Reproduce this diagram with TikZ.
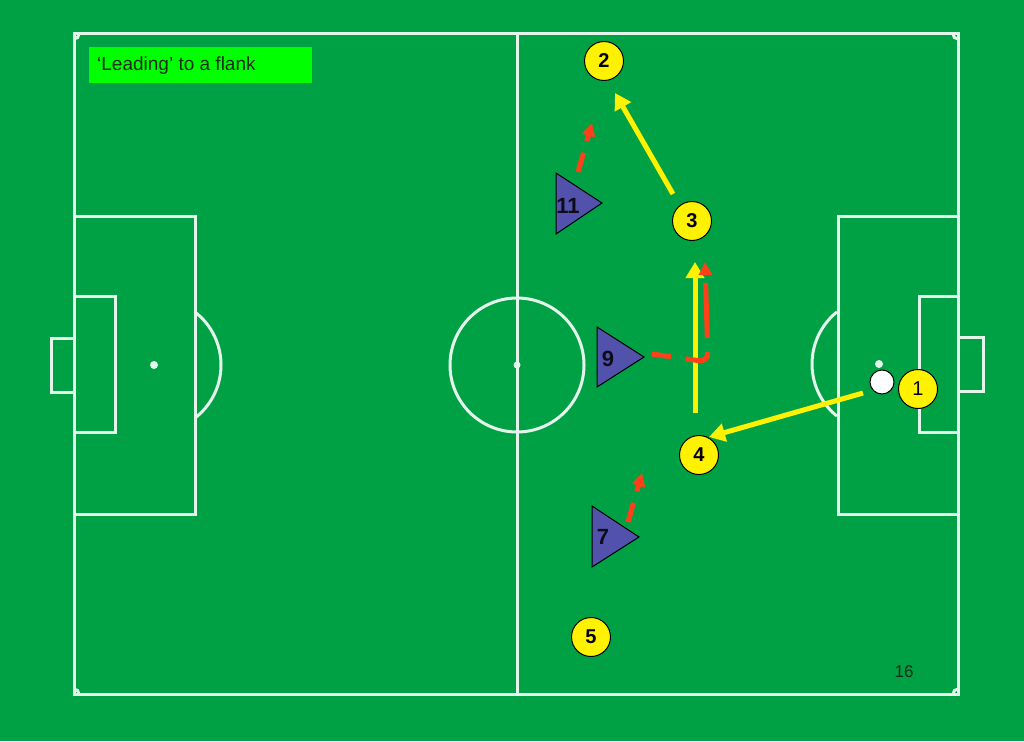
\documentclass[tikz,border=0pt]{standalone}
\usepackage{fontspec}
\setmainfont{Liberation Sans}
\usetikzlibrary{arrows.meta}
\definecolor{grass}{RGB}{0,161,69}
\definecolor{pline}{RGB}{228,246,236}
\definecolor{tri}{RGB}{82,82,172}
\definecolor{runred}{RGB}{255,64,24}
\definecolor{labelgreen}{RGB}{0,255,0}
\definecolor{darktext}{RGB}{20,45,20}
\begin{document}
\begin{tikzpicture}[x=1pt,y=-1pt,
  pitch/.style={draw=pline,line width=3pt},
  player/.style={circle,draw=black,fill=yellow,line width=1pt,minimum size=39pt,inner sep=0pt,font=\bfseries\fontsize{20}{20}\selectfont},
  pass/.style={draw=yellow,line width=5pt,-{Triangle[length=16pt,width=18pt]}},
  run/.style={draw=runred,line width=5pt,dash pattern=on 20pt off 12pt,-{Triangle[length=13pt,width=13pt]}},
  oppo/.style={fill=tri,draw=black,line width=1pt},
  onum/.style={font=\bfseries\fontsize{22}{22}\selectfont,inner sep=0pt,text=black!85!tri}]
% background
\fill[grass] (0,0) rectangle (1024,741);
\useasboundingbox (0,0) rectangle (1024,741);
% pitch
\draw[pitch] (74,34) rectangle (958,694);
\draw[pitch] (517,34) -- (517,694);
\draw[pitch] (517,365) circle[radius=67pt];
\fill[pline] (517,365) circle[radius=3.5pt];
% left end
\draw[pitch] (74,216) rectangle (195,514);
\draw[pitch] (74,296) rectangle (115,432);
\draw[pitch] (51,338) rectangle (74,392);
\fill[pline] (154,365) circle[radius=4pt];
\draw[pitch] (154,365) ++(-52:67pt) arc[start angle=-52,end angle=52,radius=67pt];
% right end
\draw[pitch] (838,216) rectangle (958,514);
\draw[pitch] (919,296) rectangle (958,432);
\draw[pitch] (958,337) rectangle (983,391);
\fill[pline] (879,364) circle[radius=4pt];
\draw[pitch] (879,364) ++(129:67pt) arc[start angle=129,end angle=231,radius=67pt];
% corner arcs
\draw[pitch] (79,34) arc[start angle=0,end angle=-90,radius=5pt];
\draw[pitch] (953,34) arc[start angle=180,end angle=270,radius=5pt];
\draw[pitch] (74,689) arc[start angle=90,end angle=0,radius=5pt];
\draw[pitch] (958,689) arc[start angle=90,end angle=180,radius=5pt];
% title
\fill[labelgreen] (89,47) rectangle (312,83);
\node[anchor=west,inner sep=0pt,text=darktext,font=\fontsize{19}{19}\selectfont] (title) at (97,66) {‘Leading’ to a flank};
\node[text=darktext,font=\fontsize{17}{17}\selectfont,inner sep=0pt] (page) at (904,672) {16};
% opponents
\draw[oppo] (556,173) -- (556,234) -- (602,203) -- cycle;
\node[onum] (o11) at (568,206) {11};
\draw[oppo] (597,327) -- (597,387) -- (644,357) -- cycle;
\node[onum] (o9) at (608,359) {9};
\draw[oppo] (592,506) -- (592,567) -- (639,537) -- cycle;
\node[onum] (o7) at (603,537) {7};
% ball
\node[circle,draw=black,fill=white,line width=1pt,minimum size=24pt,inner sep=0pt] (ball) at (882,382) {};
% players
\node[player] (p2) at (604,61) {2};
\node[player] (p3) at (692,221) {3};
\node[player] (p4) at (699,455) {4};
\node[player] (p5) at (591,637) {5};
\node[player,font=\fontsize{20}{20}\selectfont] (p1) at (918,389) {1};
% passes
\coordinate (a1) at (863,393);
\coordinate (a4) at (709,437);
\draw[pass] (a1) -- (a4);
\coordinate (b1) at (695,413);
\coordinate (b2) at (695,262);
\draw[pass] (b1) -- (b2);
\coordinate (c1) at (673,194);
\coordinate (c2) at (615,93);
\draw[pass] (c1) -- (c2);
% runs
\coordinate (r11a) at (578,172);
\coordinate (r11b) at (592,123);
\draw[run] (r11a) -- (r11b);
\coordinate (r7a) at (628,522);
\coordinate (r7b) at (642,473);
\draw[run] (r7a) -- (r7b);
\coordinate (r9a) at (652,354);
\coordinate (r9m) at (708,362);
\coordinate (r9b) at (705,262);
\draw[run,dash pattern=on 19pt off 15pt on 28pt off 14pt on 55pt off 30pt,rounded corners=9pt] (r9a) -- (r9m) -- (r9b);
\end{tikzpicture}
\end{document}
